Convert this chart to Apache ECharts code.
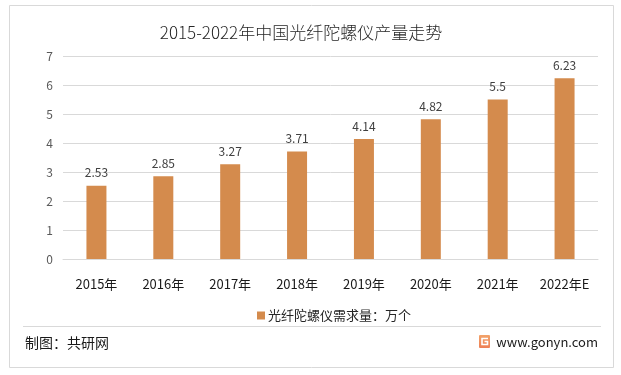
<!DOCTYPE html>
<html>
<head>
<meta charset="utf-8">
<script src="https://cdn.jsdelivr.net/npm/echarts@6/dist/echarts.min.js"></script>
<style>
  html, body { margin: 0; padding: 0; background: #fff; }
  #chart { width: 621px; height: 375px; }
</style>
</head>
<body>
<div id="chart"></div>
<script>
const years = ['2015年', '2016年', '2017年', '2018年', '2019年', '2020年', '2021年', '2022年E']
const demand = [2.53, 2.85, 3.27, 3.71, 4.14, 4.82, 5.5, 6.23]
const seriesName = '光纤陀螺仪需求量：万个'
const titleText = '2015-2022年中国光纤陀螺仪产量走势'

const font = '"Noto Sans CJK SC", "Noto Sans", sans-serif'
const barColor = '#D48B4D'

const chart = echarts.init(document.getElementById('chart'))
const option = {
    backgroundColor: '#fff',
    textStyle: { fontFamily: font },
    title: {
        text: titleText,
        left: 296,
        textAlign: 'center',
        top: 19,
        textStyle: { fontSize: 17, fontWeight: 300, color: '#262626', fontFamily: font }
    },
    legend: {
        data: [seriesName],
        left: 252,
        top: 304,
        itemWidth: 8,
        itemHeight: 8,
        itemGap: 4,
        icon: 'rect',
        textStyle: { fontSize: 13, color: '#262626', fontFamily: font, padding: [0, 0, 0, -2] }
    },
    grid: { left: 63, right: 23, top: 56, bottom: 116 },
    xAxis: {
        type: 'category',
        data: years,
        axisLine: { lineStyle: { color: '#D9D9D9' } },
        axisTick: { show: false },
        axisLabel: { margin: 19, fontSize: 13, color: '#1a1a1a', fontFamily: font }
    },
    yAxis: {
        type: 'value',
        min: 0,
        max: 7,
        interval: 1,
        axisLine: { show: false },
        axisTick: { show: false },
        splitLine: { lineStyle: { color: '#D9D9D9' } },
        axisLabel: { margin: 10, fontSize: 12, color: '#595959', fontFamily: font }
    },
    series: [{
        name: seriesName,
        type: 'bar',
        data: demand,
        barWidth: 20,
        itemStyle: { color: barColor },
        label: {
            show: true,
            position: 'top',
            distance: 7,
            fontSize: 12,
            color: '#404040',
            fontFamily: font
        }
    }],
    graphic: [
        {
            type: 'rect',
            shape: { x: 9.5, y: 5.5, width: 604, height: 362 },
            style: { fill: 'none', stroke: '#D9D9D9', lineWidth: 1 },
            silent: true
        },
        {
            type: 'line',
            shape: { x1: 23, y1: 326.5, x2: 601, y2: 326.5 },
            style: { stroke: '#D9D9D9', lineWidth: 1 },
            silent: true
        },
        {
            type: 'text',
            left: 25,
            top: 336,
            style: { text: '制图：共研网', fill: '#1a1a1a', font: '14px ' + font }
        },
        // logo
        {
            type: 'rect',
            shape: { x: 479, y: 335, width: 11, height: 13, r: 1 },
            style: {
                fill: new echarts.graphic.LinearGradient(0, 0, 0, 1, [
                    { offset: 0, color: '#F2A36A' },
                    { offset: 1, color: '#EE7F55' }
                ])
            }
        },
        {
            type: 'polyline',
            shape: { points: [[488, 338.5], [482, 338.5], [482, 344.5], [487.5, 344.5], [487.5, 341.5], [484.5, 341.5]] },
            style: { stroke: '#fff', lineWidth: 1.6, fill: 'none' }
        },
        {
            type: 'text',
            right: 23,
            top: 336,
            style: { text: 'www.gonyn.com', fill: '#1a1a1a', font: '13px ' + font }
        }
    ]
}
chart.setOption(option)
</script>
</body>
</html>
